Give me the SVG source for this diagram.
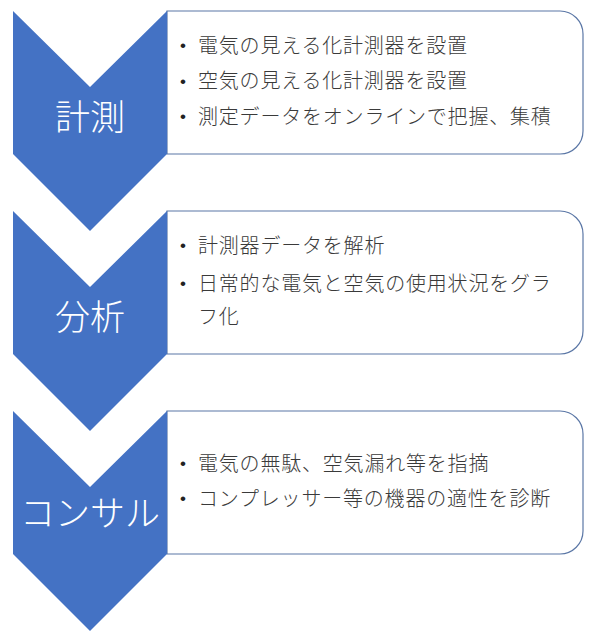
<svg xmlns="http://www.w3.org/2000/svg" width="601" height="639" viewBox="0 0 601 639">
  <style>
    .chev { fill: #4472C4; }
    .box { fill: #ffffff; stroke: #5b77a6; stroke-width: 1.2; }
    .lbl { font-family: "Noto Sans CJK JP", "Noto Sans", sans-serif; font-size: 35px; font-weight: 300; fill: #ffffff; text-anchor: middle; }
    .txt { font-family: "Noto Sans CJK JP", "Noto Sans", sans-serif; font-size: 20px; font-weight: 300; fill: #3a3a3a; letter-spacing: 0.8px; }
    .bul { font-family: "Liberation Sans", sans-serif; font-size: 17px; fill: #222222; }
  </style>
  <rect width="601" height="639" fill="#ffffff"/>
  <g id="connectors"/>
  <g id="step1">
    <path class="box" d="M167,11 H560 A23,23 0 0 1 583,34 V131 A23,23 0 0 1 560,154 H167 Z"/>
    <polygon class="chev" points="13,11 90,87 167,11 167,154 90,231 13,154"/>
    <text class="lbl" x="90" y="130">計測</text>
    <text class="bul" x="180" y="51">•</text>
    <text class="txt" x="198" y="52.5">電気の見える化計測器を設置</text>
    <text class="bul" x="180" y="86.5">•</text>
    <text class="txt" x="198" y="88">空気の見える化計測器を設置</text>
    <text class="bul" x="180" y="122">•</text>
    <text class="txt" x="198" y="123.5">測定データをオンラインで把握、集積</text>
  </g>
  <g id="step2">
    <path class="box" d="M167,211 H560 A23,23 0 0 1 583,234 V331 A23,23 0 0 1 560,354 H167 Z"/>
    <polygon class="chev" points="13,211 90,287 167,211 167,354 90,431 13,354"/>
    <text class="lbl" x="90" y="330">分析</text>
    <text class="bul" x="180" y="251">•</text>
    <text class="txt" x="198" y="252.5">計測器データを解析</text>
    <text class="bul" x="180" y="289">•</text>
    <text class="txt" x="198" y="290.5">日常的な電気と空気の使用状況をグラ</text>
    <text class="txt" x="198" y="323.5">フ化</text>
  </g>
  <g id="step3">
    <path class="box" d="M167,411 H560 A23,23 0 0 1 583,434 V531 A23,23 0 0 1 560,554 H167 Z"/>
    <polygon class="chev" points="13,411 90,487 167,411 167,554 90,631 13,554"/>
    <text class="lbl" x="90" y="526">コンサル</text>
    <text class="bul" x="180" y="469">•</text>
    <text class="txt" x="198" y="470.5">電気の無駄、空気漏れ等を指摘</text>
    <text class="bul" x="180" y="504">•</text>
    <text class="txt" x="198" y="505.5">コンプレッサー等の機器の適性を診断</text>
  </g>
</svg>
